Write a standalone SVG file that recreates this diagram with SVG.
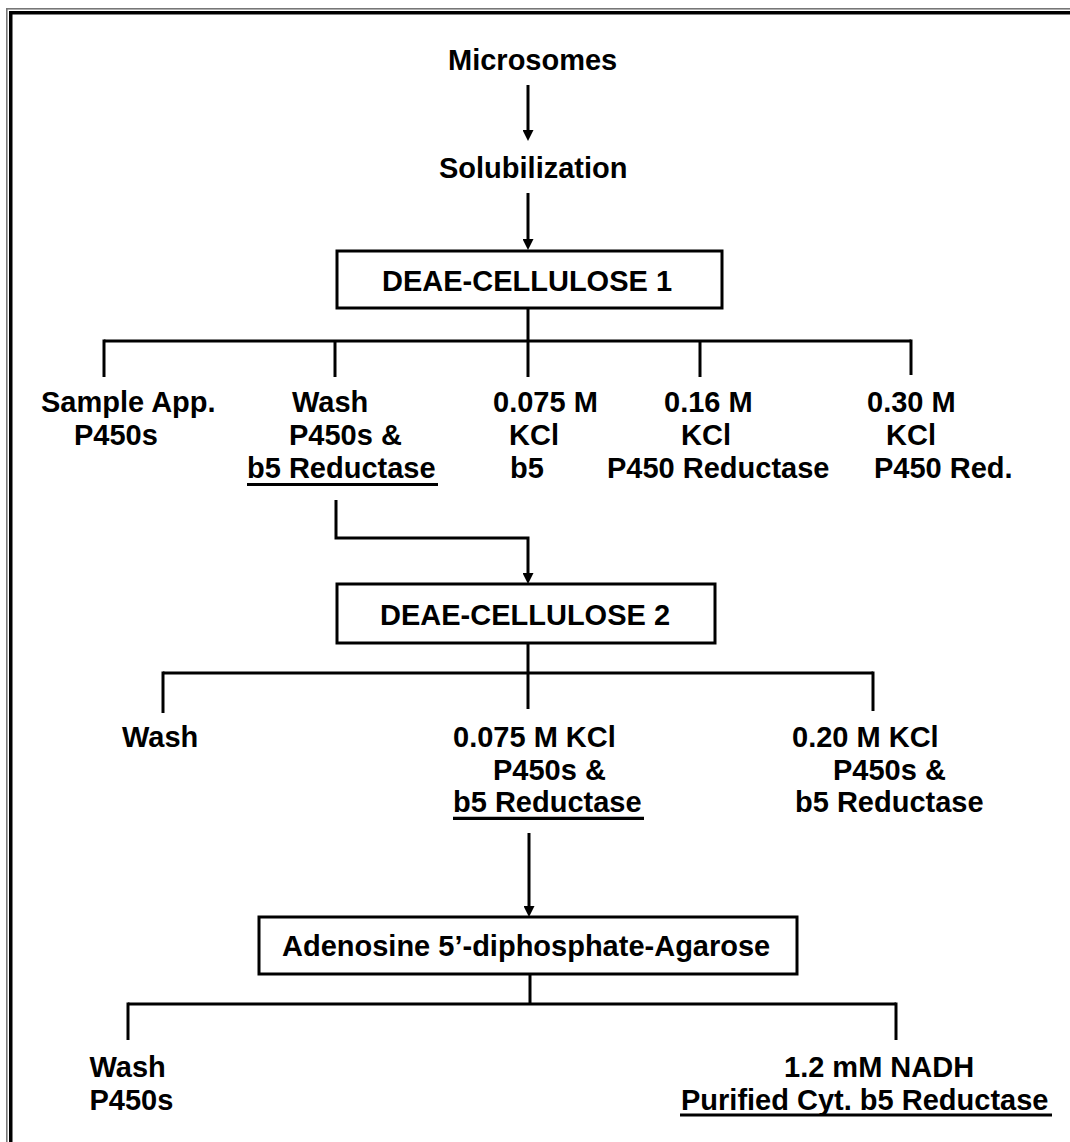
<svg xmlns="http://www.w3.org/2000/svg" width="1070" height="1142" viewBox="0 0 1070 1142">
  <style>
    .t { font-family: "Liberation Sans", Arial, sans-serif; font-weight: bold; font-size: 29px; fill: #000; }
    .box { fill: #fff; stroke: #000; stroke-width: 3; }
    .ln { fill: none; stroke: #000; stroke-width: 3; }
    .ul { stroke: #000; stroke-width: 3.2; }
  </style>
  <defs>
    <marker id="arrow" viewBox="0 0 10 10" markerWidth="11" markerHeight="11" refX="2.7" refY="5" orient="auto" markerUnits="userSpaceOnUse">
      <path d="M0,0 L10,5 L0,10 z" fill="#000"/>
    </marker>
  </defs>

  <rect width="1070" height="1142" fill="#fff"/>

  <!-- page frame (left and top rules) -->
  <g id="frame">
    <rect x="6" y="8" width="1.6" height="1134" fill="#777"/>
    <rect x="6" y="8" width="1064" height="1.6" fill="#777"/>
    <rect x="9" y="11" width="3.5" height="1131" fill="#000"/>
    <rect x="9" y="11" width="1061" height="3.5" fill="#000"/>
  </g>

  <!-- connectors -->
  <g id="connectors">
    <line class="ln" x1="528" y1="85" x2="528" y2="133" marker-end="url(#arrow)"/>
    <line class="ln" x1="528" y1="193" x2="528" y2="242" marker-end="url(#arrow)"/>
    <!-- DEAE-cellulose 1 fractions -->
    <line class="ln" x1="528" y1="308" x2="528" y2="377"/>
    <line class="ln" x1="104" y1="341" x2="911" y2="341"/>
    <line class="ln" x1="104" y1="339.5" x2="104" y2="377"/>
    <line class="ln" x1="335" y1="341" x2="335" y2="377"/>
    <line class="ln" x1="700" y1="341" x2="700" y2="377"/>
    <line class="ln" x1="911" y1="339.5" x2="911" y2="375"/>
    <polyline class="ln" points="336,500 336,538 528,538 528,576" marker-end="url(#arrow)"/>
    <!-- DEAE-cellulose 2 fractions -->
    <line class="ln" x1="528" y1="643" x2="528" y2="709"/>
    <line class="ln" x1="163" y1="673" x2="873" y2="673"/>
    <line class="ln" x1="163" y1="671.5" x2="163" y2="713"/>
    <line class="ln" x1="873" y1="671.5" x2="873" y2="711"/>
    <line class="ln" x1="529" y1="833" x2="529" y2="909" marker-end="url(#arrow)"/>
    <!-- ADP-agarose fractions -->
    <line class="ln" x1="530" y1="974" x2="530" y2="1004"/>
    <line class="ln" x1="128" y1="1004" x2="896" y2="1004"/>
    <line class="ln" x1="128" y1="1002.5" x2="128" y2="1040"/>
    <line class="ln" x1="896" y1="1002.5" x2="896" y2="1040"/>
  </g>

  <g id="microsomes">
    <text class="t" x="448" y="70">Microsomes</text>
  </g>
  <g id="solubilization">
    <text class="t" x="439" y="178">Solubilization</text>
  </g>

  <g id="deae1">
    <rect class="box" x="337" y="251" width="385" height="57"/>
    <text class="t" x="382" y="291">DEAE-CELLULOSE 1</text>
  </g>

  <g id="d1-sample">
    <text class="t" x="41" y="412">Sample App.</text>
    <text class="t" x="74" y="445">P450s</text>
  </g>
  <g id="d1-wash">
    <text class="t" x="292" y="412">Wash</text>
    <text class="t" x="289" y="445">P450s &amp;</text>
    <text class="t" x="247" y="478">b5 Reductase</text>
    <line class="ul" x1="247" y1="484.5" x2="438" y2="484.5"/>
  </g>
  <g id="d1-kcl075">
    <text class="t" x="493" y="412">0.075 M</text>
    <text class="t" x="509" y="445">KCl</text>
    <text class="t" x="510" y="478">b5</text>
  </g>
  <g id="d1-kcl016">
    <text class="t" x="664" y="412">0.16 M</text>
    <text class="t" x="681" y="445">KCl</text>
    <text class="t" x="607" y="478">P450 Reductase</text>
  </g>
  <g id="d1-kcl030">
    <text class="t" x="867" y="412">0.30 M</text>
    <text class="t" x="886" y="445">KCl</text>
    <text class="t" x="874" y="478">P450 Red.</text>
  </g>

  <g id="deae2">
    <rect class="box" x="337" y="584" width="378" height="59"/>
    <text class="t" x="380" y="625">DEAE-CELLULOSE 2</text>
  </g>

  <g id="d2-wash">
    <text class="t" x="122" y="747">Wash</text>
  </g>
  <g id="d2-kcl075">
    <text class="t" x="453" y="747">0.075 M KCl</text>
    <text class="t" x="493" y="779.5">P450s &amp;</text>
    <text class="t" x="453" y="812">b5 Reductase</text>
    <line class="ul" x1="453" y1="818.3" x2="644" y2="818.3"/>
  </g>
  <g id="d2-kcl020">
    <text class="t" x="792" y="747">0.20 M KCl</text>
    <text class="t" x="833" y="779.5">P450s &amp;</text>
    <text class="t" x="795" y="812">b5 Reductase</text>
  </g>

  <g id="adp-agarose">
    <rect class="box" x="259" y="917" width="538" height="57"/>
    <text class="t" x="282" y="956">Adenosine 5’-diphosphate-Agarose</text>
  </g>

  <g id="a-wash">
    <text class="t" x="89.5" y="1077">Wash</text>
    <text class="t" x="89.5" y="1109.5">P450s</text>
  </g>
  <g id="a-nadh">
    <text class="t" x="784" y="1077">1.2 mM NADH</text>
    <text class="t" x="681" y="1109.5">Purified Cyt. b5 Reductase</text>
    <line class="ul" x1="680" y1="1115" x2="1052" y2="1115"/>
  </g>
</svg>
